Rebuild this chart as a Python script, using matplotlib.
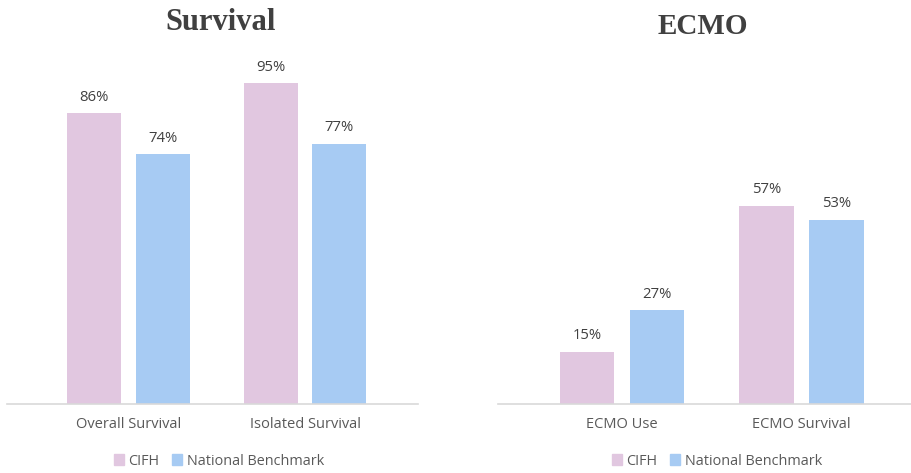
import matplotlib
matplotlib.use("Agg")
import matplotlib.pyplot as plt
from matplotlib.patches import Patch

surv_cats = ["Overall Survival", "Isolated Survival"]
surv_cifh = [86, 95]
surv_nat = [74, 77]

ecmo_cats = ["ECMO Use", "ECMO Survival"]
ecmo_cifh = [15, 57]
ecmo_nat = [27, 53]

series_names = ["CIFH", "National Benchmark"]
PINK = "#E1C7E0"
BLUE = "#A7CBF3"
TXT = "#595959"
W, H = 911, 473

fig = plt.figure(figsize=(9.11, 4.73), dpi=100)
font = ["Open Sans", "DejaVu Sans"]

def make(ax_px, cats, a, b, title, title_xy, title_size, legend_x, ymax, xlim):
    x0, x1, ybot, ytop = ax_px
    ax = fig.add_axes([x0 / W, (H - ybot) / H, (x1 - x0) / W, (ybot - ytop) / H])
    xs = range(len(cats))
    off, bw = 0.195, 0.306
    for i, x in enumerate(xs):
        ax.bar(x - off, a[i], bw, color=PINK)
        ax.bar(x + off, b[i], bw, color=BLUE)
        ax.annotate(f"{a[i]}%", (x - off, a[i]), xytext=(0, 6), textcoords="offset points",
                    ha="center", va="bottom", fontsize=10.7, color="#404040", family=font)
        ax.annotate(f"{b[i]}%", (x + off, b[i]), xytext=(0, 6), textcoords="offset points",
                    ha="center", va="bottom", fontsize=10.7, color="#404040", family=font)
    ax.set_ylim(0, ymax)
    ax.set_xlim(*xlim)
    ax.set_xticks(list(xs))
    ax.set_xticklabels(cats, fontsize=10.5, color=TXT, family=font)
    ax.tick_params(axis="x", length=0, pad=9)
    ax.set_yticks([])
    for s in ["top", "right", "left"]:
        ax.spines[s].set_visible(False)
    ax.spines["bottom"].set_color("#D9D9D9")
    ax.spines["bottom"].set_linewidth(1.2)
    fig.text(title_xy[0] / W, 1 - title_xy[1] / H, title, ha="center", va="center",
             fontsize=title_size, fontweight="bold", color="#404040", family="Liberation Serif")
    handles = [Patch(color=PINK, label=series_names[0]), Patch(color=BLUE, label=series_names[1])]
    fig.legend(handles=handles, loc="center", bbox_to_anchor=(legend_x / W, 1 - 461 / H),
               ncol=2, frameon=False, handlelength=0.7, handleheight=0.7, handletextpad=0.3,
               columnspacing=0.9, prop={"family": font, "size": 10.4}, labelcolor=TXT)
    return ax

make((7, 418, 404, 50), surv_cats, surv_cifh, surv_nat, "Survival", (221, 22), 22, 219,
     354 / 3.38, (-0.688, 1.640))
make((498, 911, 404, 50), ecmo_cats, ecmo_cifh, ecmo_nat, "ECMO", (703, 27), 21, 717,
     354 / 3.48, (-0.691, 1.61))

fig.savefig("out.png", dpi=100)
